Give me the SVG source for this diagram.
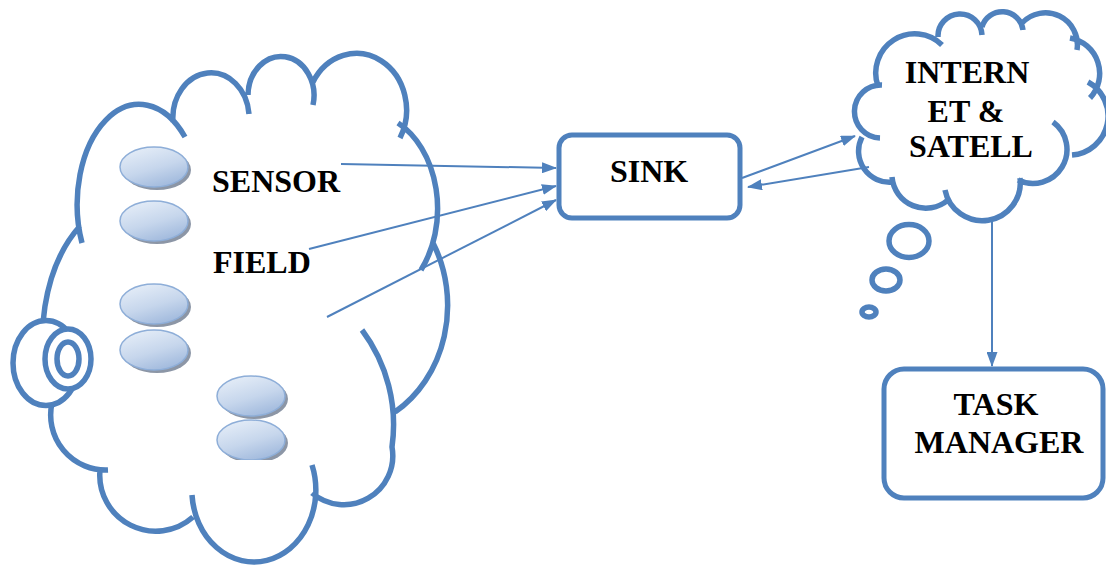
<svg xmlns="http://www.w3.org/2000/svg" width="1106" height="568" viewBox="0 0 1106 568">
  <style>
    .cloud { fill: none; stroke: #4f81bd; stroke-width: 5.5; }
    .bubble { fill: #ffffff; stroke: #4f81bd; stroke-width: 5.5; }
    .box { fill: #ffffff; stroke: #4f81bd; stroke-width: 5; }
    .link { fill: none; stroke: #4f81bd; stroke-width: 2; marker-end: url(#head); }
    .label { font-family: "Liberation Serif", "Times New Roman", serif; font-weight: bold; font-size: 32px; fill: #000000; }
    .disc { fill: url(#discFill); stroke: #8eaed8; stroke-width: 1.5; }
    .discShadow { fill: #8c96a6; }
  </style>
  <defs>
    <marker id="head" markerUnits="userSpaceOnUse" markerWidth="15" markerHeight="11" refX="14" refY="5.5" orient="auto">
      <path d="M0,0 L15,5.5 L0,11 z" fill="#4f81bd"/>
    </marker>
    <linearGradient id="discFill" x1="0.2" y1="0" x2="0.7" y2="1">
      <stop offset="0" stop-color="#e6eef8"/>
      <stop offset="0.55" stop-color="#c6d6ec"/>
      <stop offset="1" stop-color="#9fb8dc"/>
    </linearGradient>
    <clipPath id="fieldClip">
      <rect x="0" y="0" width="1106" height="460"/>
    </clipPath>
  </defs>

  <!-- sensor field cloud -->
  <g id="sensor-field">
    <path class="cloud" d="
      M52,403 A90,140 0 0 1 80,226
      M82,243 A62,100 0 0 1 185,137
      M173,122 A38,45 0 0 1 249,114
      M248,95 A33,39 0 1 1 313,105
      M313,82 A46,52 0 0 1 400,138
      M398,123 A70,95 0 0 1 421,270
      M433,243 A110,125 0 0 1 395,412
      M362,330 A158,158 0 0 1 392,447 A49,49 0 0 1 312,493
      M312,465 A62,72 0 1 1 192,495
      M193,517 A56,56 0 0 1 100,470
      M108,470 A55,55 0 0 1 52,403"/>
    <ellipse class="bubble" cx="46" cy="363" rx="33" ry="42.5"/>
    <ellipse class="bubble" cx="68" cy="359" rx="23" ry="30"/>
    <ellipse class="bubble" cx="68" cy="359" rx="11" ry="17" stroke-width="6.5"/>

    <g id="sensors" clip-path="url(#fieldClip)">
      <ellipse class="discShadow" cx="157" cy="170" rx="34" ry="20"/>
      <ellipse class="disc" cx="154" cy="167" rx="34" ry="20"/>
      <ellipse class="discShadow" cx="157" cy="224" rx="34" ry="20"/>
      <ellipse class="disc" cx="154" cy="221" rx="34" ry="20"/>
      <ellipse class="discShadow" cx="157" cy="307" rx="34" ry="20"/>
      <ellipse class="disc" cx="154" cy="304" rx="34" ry="20"/>
      <ellipse class="discShadow" cx="157" cy="353" rx="34" ry="20"/>
      <ellipse class="disc" cx="154" cy="350" rx="34" ry="20"/>
      <ellipse class="discShadow" cx="254" cy="399" rx="34" ry="20"/>
      <ellipse class="disc" cx="251" cy="396" rx="34" ry="20"/>
      <ellipse class="discShadow" cx="254" cy="443" rx="34" ry="20"/>
      <ellipse class="disc" cx="251" cy="440" rx="34" ry="20"/>
    </g>

    <text class="label" x="212" y="192">SENSOR</text>
    <text class="label" x="213" y="273">FIELD</text>
  </g>

  <!-- sink -->
  <g id="sink">
    <rect class="box" x="559" y="135" width="181" height="83" rx="13"/>
    <text class="label" x="649" y="182" text-anchor="middle">SINK</text>
  </g>

  <!-- internet and satellite cloud -->
  <g id="internet">
    <path class="cloud" d="
      M880,138 A26,26 0 1 1 882,85
      M878,86 A39,39 0 0 1 942,45
      M938,37 A22,22 0 0 1 982,35
      M982,27 A21,21 0 0 1 1023,30
      M1022,23 A32,32 0 0 1 1077,50
      M1070,38 A36,36 0 0 1 1090,98
      M1088,82 A39,39 0 0 1 1072,155
      M1053,122 A34,34 0 0 1 1018,180
      M1020,178 A38,38 0 0 1 945,190
      M948,200 A34,34 0 0 1 892,177
      M893,182 A31,31 0 0 1 862,137"/>
    <ellipse class="bubble" cx="909" cy="241" rx="20" ry="16.5"/>
    <ellipse class="bubble" cx="886" cy="280" rx="14" ry="11"/>
    <ellipse class="bubble" cx="869" cy="312" rx="7" ry="5"/>
    <text class="label" text-anchor="middle">
      <tspan x="971" y="83">INTERN</tspan>
      <tspan x="970" y="122">ET &amp;</tspan>
      <tspan x="971" y="157">SATELL</tspan>
    </text>
  </g>

  <!-- task manager -->
  <g id="task-manager">
    <rect class="box" x="884" y="369" width="219" height="129" rx="20"/>
    <text class="label" text-anchor="middle">
      <tspan x="1000" y="415">TASK</tspan>
      <tspan x="999" y="453">MANAGER</tspan>
    </text>
  </g>

  <!-- connectors -->
  <g id="connectors">
    <line class="link" x1="341" y1="164" x2="556" y2="168"/>
    <line class="link" x1="309" y1="249" x2="556" y2="186"/>
    <line class="link" x1="327" y1="317" x2="556" y2="200"/>
    <line class="link" x1="742" y1="178" x2="855" y2="136"/>
    <line class="link" x1="869" y1="167" x2="748" y2="187"/>
    <line class="link" x1="992" y1="220" x2="992" y2="366"/>
  </g>
</svg>
